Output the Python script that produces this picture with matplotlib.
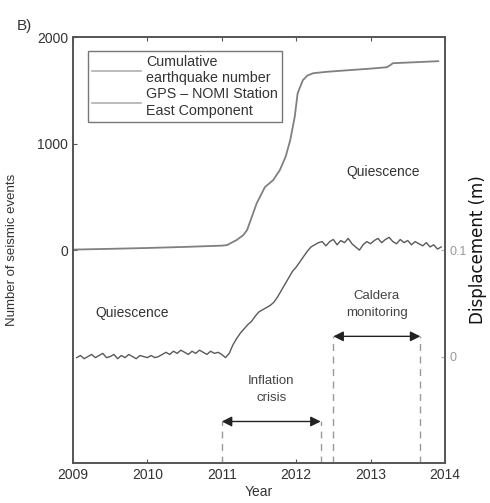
import matplotlib
matplotlib.use('Agg')
import matplotlib.pyplot as plt
from matplotlib.lines import Line2D
import numpy as np

plt.rcParams['font.family'] = ['Liberation Sans', 'DejaVu Sans']

# cumulative number of seismic events
cum_year = [2009.0, 2009.5, 2010.0, 2010.5, 2011.0, 2011.07, 2011.2, 2011.29, 2011.34,
            2011.47, 2011.58, 2011.69, 2011.78, 2011.86, 2011.92, 2011.98, 2012.02,
            2012.09, 2012.15, 2012.23, 2012.41, 2012.7, 2013.0, 2013.22, 2013.27,
            2013.3, 2013.6, 2013.91]
cum_count = [5, 12, 20, 30, 42, 47, 95, 141, 188, 441, 592, 657, 751, 880, 1033, 1249,
             1474, 1596, 1640, 1662, 1675, 1690, 1705, 1718, 1740, 1756, 1765, 1775]

# GPS NOMI station, east component (m), sampled every 0.05 yr
gps_year = np.round(np.arange(2009.05, 2013.951, 0.05), 2)
gps_east = [
    -0.001, 0.001, -0.002, 0.000, 0.002, -0.001, 0.001, 0.003, -0.001, 0.000,
    0.002, -0.002, 0.001, -0.001, 0.002, 0.000, -0.002, 0.001, 0.000, -0.001,
    0.001, -0.001, 0.000, 0.002, 0.004, 0.002, 0.005, 0.003, 0.006, 0.004,
    0.002, 0.005, 0.003, 0.006, 0.004, 0.002, 0.005, 0.003, 0.004, 0.002,
    -0.001, 0.003, 0.011, 0.017, 0.022, 0.026, 0.030, 0.033, 0.038, 0.042,
    0.044, 0.046, 0.048, 0.051, 0.056, 0.062, 0.068, 0.074, 0.080, 0.084,
    0.089, 0.094, 0.099, 0.103, 0.105, 0.107, 0.108, 0.104, 0.108, 0.110,
    0.105, 0.109, 0.107, 0.111, 0.106, 0.103, 0.100, 0.105, 0.108, 0.106,
    0.109, 0.111, 0.107, 0.110, 0.112, 0.108, 0.106, 0.110, 0.107, 0.109,
    0.105, 0.108, 0.106, 0.104, 0.107, 0.103, 0.105, 0.101, 0.103,
]

year_ticks = [2009, 2010, 2011, 2012, 2013, 2014]
count_ticks = [0, 1000, 2000]
disp_ticks = [0, 0.1]

# phases: (start, end, arrow height in m, label)
phases = [
    (2011.0, 2012.33, -0.061, 'Inflation\ncrisis'),
    (2012.5, 2013.67, 0.019, 'Caldera\nmonitoring'),
]

txt = '#333333'
edge = '#555555'

fig = plt.figure(figsize=(4.9, 5.03), dpi=100)
ax = fig.add_axes([0.149, 0.0795, 0.759, 0.8465])
ax2 = ax.twinx()

ax.plot(cum_year, cum_count, color='#808080', lw=1.3)
ax2.plot(gps_year, gps_east, color='#5a5a5a', lw=1.0)

ax.set_xlim(2009, 2014)
ax.set_ylim(-2000, 2000)
ax2.set_ylim(-0.1, 0.3)
ax.set_xticks(year_ticks)
ax.set_yticks(count_ticks)
ax2.set_yticks(disp_ticks)
ax2.set_yticklabels(['0', '0.1'])

for a in (ax, ax2):
    for s in a.spines.values():
        s.set_color(edge)
        s.set_linewidth(1.2)
ax.tick_params(direction='in', length=3, color=edge, labelcolor=txt, labelsize=10,
               top=True)
ax2.tick_params(direction='in', length=3, color='#aaaaaa', labelcolor='#999999',
                labelsize=9, pad=3)

ax.set_xlabel('Year', color=txt, fontsize=10, labelpad=2)
ax.set_ylabel('Number of seismic events', color=txt, fontsize=9.5, labelpad=14)
ax2.set_ylabel('Displacement (m)', family='DejaVu Sans', color='#111111',
               fontsize=12, labelpad=2)

# phase arrows with dashed limits
for x0, x1, y, label in phases:
    ax2.vlines([x0, x1], -0.1, y, colors='#999999', linestyles=(0, (5, 4)), lw=1.0)
    ax2.annotate('', xy=(x0, y), xytext=(x1, y),
                 arrowprops=dict(arrowstyle='<|-|>', color='#222222', lw=1.0,
                                 mutation_scale=15, shrinkA=0, shrinkB=0))
    ax2.text((x0 + x1) / 2, y + 0.03, label, ha='center', va='center',
             fontsize=9.5, color='#444444', linespacing=1.55)

ax.text(2009.8, -590, 'Quiescence', ha='center', va='center', fontsize=10, color=txt)
ax.text(2013.17, 735, 'Quiescence', ha='center', va='center', fontsize=10, color=txt)

handles = [Line2D([], [], color='#b0b0b0', lw=1.2), Line2D([], [], color='#b0b0b0', lw=1.2)]
leg = ax.legend(handles, ['Cumulative\nearthquake number', 'GPS \u2013 NOMI Station\nEast Component'],
                loc='upper left', bbox_to_anchor=(0.02, 0.985), fontsize=10.3,
                handlelength=3.4, handletextpad=0.4, borderpad=0.3,
                labelspacing=0.15, fancybox=False, framealpha=1)
leg.get_frame().set_edgecolor('#777777')
leg.get_frame().set_linewidth(1.0)
for t in leg.get_texts():
    t.set_color(txt)

fig.text(0.035, 0.94, 'B)', fontsize=11, color=txt)

fig.savefig('out.png', dpi=100)
